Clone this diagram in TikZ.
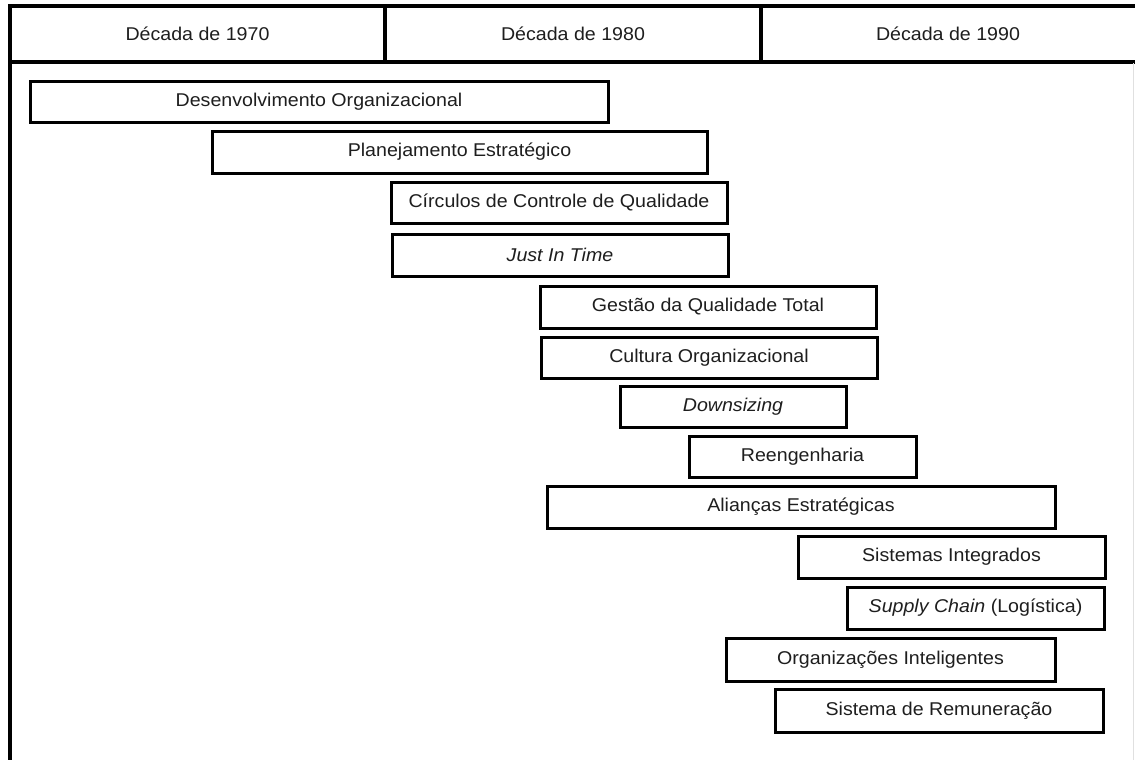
\documentclass[tikz,border=0pt]{standalone}
\usepackage{fontspec}
\setmainfont{Liberation Sans}[FakeStretch=1.06]
\definecolor{txt}{HTML}{1E1E1E}
\begin{document}
\begin{tikzpicture}[x=1pt,y=-1pt,
  frame/.style={line width=3.2pt, black},
  tlbox/.style={draw=black, line width=3pt, fill=white, inner sep=0pt, text=txt,
    font=\fontsize{18.5}{21}\selectfont},
  headtxt/.style={inner sep=0pt, text=txt, font=\fontsize{18.5}{21}\selectfont}]
\newcommand{\timebar}[6]{\node[tlbox, minimum width={(#3-#2)*1pt}, minimum height={(#5-#4)*1pt}] (#1) at ({(#2+#3)/2},{(#4+#5)/2}) {#6};}
\useasboundingbox (0,0) rectangle (1135,760);
\fill[white] (0,0) rectangle (1135,760);
% frame
\draw[frame] (10,760) -- (10,6) -- (1135,6);
\draw[frame] (10,62) -- (1135,62);
\draw[frame] (385,6) -- (385,62);
\draw[frame] (761,6) -- (761,62);
\draw[line width=1pt, black!12] (1133,63.5) -- (1133,760);
% headers
\node[headtxt] (h70) at (197.5,34) {Década de 1970};
\node[headtxt] (h80) at (573,34) {Década de 1980};
\node[headtxt] (h90) at (948,34) {Década de 1990};
% bars
\timebar{b1}{30}{608}{81}{122}{Desenvolvimento Organizacional}
\timebar{b2}{212}{707}{131}{173}{Planejamento Estratégico}
\timebar{b3}{391}{727}{182}{223}{Círculos de Controle de Qualidade}
\timebar{b4}{392}{728}{234}{276}{\textit{Just In Time}}
\timebar{b5}{540}{876}{286}{328}{Gestão da Qualidade Total}
\timebar{b6}{541}{877}{337}{378}{Cultura Organizacional}
\timebar{b7}{620}{846}{386}{427}{\textit{Downsizing}}
\timebar{b8}{689}{916}{436}{477}{Reengenharia}
\timebar{b9}{547}{1055}{486}{528}{Alianças Estratégicas}
\timebar{b10}{798}{1105}{536}{578}{Sistemas Integrados}
\timebar{b11}{847}{1104}{587}{629}{\textit{Supply Chain} (Logística)}
\timebar{b12}{726}{1055}{638}{681}{Organizações Inteligentes}
\timebar{b13}{775}{1103}{689}{732}{Sistema de Remuneração}
\end{tikzpicture}
\end{document}
